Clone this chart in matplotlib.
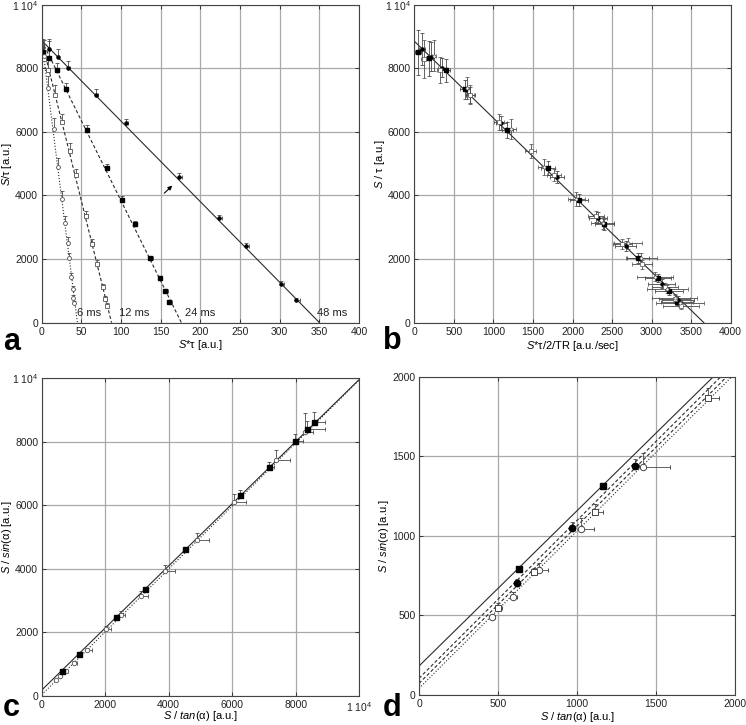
import numpy as np
import matplotlib.pyplot as plt
from matplotlib.ticker import FuncFormatter, MultipleLocator

plt.rcParams['font.family'] = ['Liberation Sans', 'DejaVu Sans']
plt.rcParams['mathtext.fontset'] = 'custom'
plt.rcParams['mathtext.rm'] = 'Liberation Sans'
plt.rcParams['mathtext.it'] = 'Liberation Sans:italic'
plt.rcParams['mathtext.sf'] = 'Liberation Sans'

# ---- panel a : S/tau vs S*tau, four delays ----
a48_x = [9, 20, 33, 68, 106, 173, 223, 257, 301, 320]
a48_y = [8600, 8365, 8019, 7170, 6270, 4582, 3302, 2412, 1226, 704]
a48_ye = [320, 240, 200, 170, 140, 110, 90, 80, 70, 60]
a48_xe = [2, 2, 3, 3, 3, 4, 4, 4, 4, 5]

a24_x = [2, 9, 19, 31, 57, 82, 101, 117, 137, 149, 156, 161]
a24_y = [8500, 8310, 7930, 7340, 6050, 4850, 3860, 3090, 2030, 1400, 1000, 660]
a24_ye = [420, 550, 230, 190, 160, 150, 120, 100, 80, 70, 60, 60]
a24_xe = [1, 1, 1, 2, 2, 2, 3, 3, 3, 3, 3, 3]

a12_x = [3, 8, 17, 26, 36, 43, 56, 64, 70, 77, 80, 82]
a12_y = [8300, 7950, 7160, 6310, 5410, 4645, 3340, 2480, 1840, 1130, 740, 535]
a12_ye = [450, 350, 300, 260, 230, 200, 160, 140, 120, 100, 90, 80]
a12_xe = [1, 1, 1, 1, 1, 1, 2, 2, 2, 2, 2, 2]

a6_x = [3, 8, 15, 20, 25, 29, 33, 35, 37, 39, 40, 41]
a6_y = [8400, 7370, 6090, 4890, 3900, 3130, 2500, 2040, 1450, 1050, 770, 610]
a6_ye = [500, 400, 330, 280, 240, 210, 180, 150, 120, 100, 90, 80]
a6_xe = [1, 1, 1, 1, 1, 1, 1, 1, 1, 1, 1, 1]

fit_a_y0 = 8870
fit_a_xint = [45, 88, 176, 350]          # 6, 12, 24, 48 ms
fit_a_names = ['6 ms', '12 ms', '24 ms', '48 ms']
fit_a_lbl_x = [44, 97, 180, 347]

# ---- panel b : S/tau vs S*tau/2/TR ----
b48_x = [96, 208, 348, 707, 1100, 1800, 2323, 2670, 3130, 3333]
b48_xe = [40, 40, 50, 60, 70, 90, 110, 130, 170, 200]
b48_ye = [500, 450, 300, 250, 220, 200, 170, 160, 140, 130]
b24_x = [45, 190, 395, 640, 1175, 1690, 2080, 2400, 2830, 3080, 3220, 3320]
b24_xe = [40, 40, 50, 60, 70, 90, 110, 120, 140, 160, 180, 200]
b24_ye = [700, 550, 350, 300, 250, 220, 200, 170, 150, 130, 120, 110]
b12_x = [120, 330, 700, 1070, 1470, 1770, 2300, 2630, 2880, 3170, 3290, 3370]
b12_xe = [30, 40, 50, 60, 70, 90, 100, 120, 130, 160, 200, 230]
b12_ye = [600, 400, 300, 250, 220, 200, 170, 150, 140, 130, 120, 110]
b6_x = [250, 660, 1220, 1640, 2050, 2380, 2700, 2870, 3040, 3200, 3290, 3360]
b6_xe = [30, 50, 60, 80, 110, 150, 180, 200, 230, 260, 280, 300]
b6_ye = [500, 350, 300, 250, 220, 200, 170, 150, 140, 130, 120, 110]
fit_b = [8850, 3660]                     # y-intercept, x-intercept

# ---- panel c / d : S/sin(alpha) vs S/tan(alpha) ----
c_fs_x = [634, 1161, 2342, 3245, 4530, 6250, 7173, 7993, 8351, 8592]
c_fs_y = [794, 1313, 2487, 3378, 4620, 6337, 7218, 8036, 8394, 8624]
c_fs_xe = [20, 30, 40, 60, 70, 100, 130, 250, 580, 340]
c_fs_ye = [15, 25, 40, 50, 60, 150, 160, 200, 250, 330]
c_oc_x = [463, 592, 761, 1024, 1418, 2026, 2489, 3119, 3896, 4885, 6071, 7385, 8298]
c_oc_y = [488, 614, 785, 1045, 1434, 2099, 2540, 3148, 3935, 4910, 6097, 7428, 8319]
c_oc_xe = [20, 30, 55, 80, 170, 150, 150, 220, 300, 380, 350, 450, 250]
c_oc_ye = [15, 35, 45, 55, 80, 100, 120, 150, 180, 230, 270, 330, 580]
fit_c_solid = [185, 9960]                # y at x=0, y at x=10000
fit_c_dot = [40, 9940]

d_fs_x = [634, 1161]
d_fs_y = [794, 1313]
d_fs_xe = [10, 15]
d_fs_ye = [10, 20]
d_fc_x = [618, 969, 1368]
d_fc_y = [702, 1049, 1441]
d_fc_xe = [15, 20, 25]
d_fc_ye = [25, 35, 40]
d_os_x = [498, 727, 1113, 1829]
d_os_y = [545, 771, 1152, 1865]
d_os_xe = [25, 20, 50, 70]
d_os_ye = [30, 25, 50, 67]
d_oc_x = [463, 592, 761, 1024, 1418]
d_oc_y = [488, 614, 785, 1045, 1434]
d_oc_xe = [20, 30, 55, 80, 170]
d_oc_ye = [15, 35, 45, 65, 84]
# lines: (y at x=0, x where y reaches 2000)
d_lines = [(182, 1861, '-'), (105, 1908, (0, (3, 2))), (73, 1946, (0, (3, 2))), (42, 1978, ':')]

ecol = '#4a4a4a'
lcol = '#2a2a2a'
ebkw = dict(ecolor=ecol, elinewidth=0.6, capsize=1.6, capthick=0.6, linestyle='none')


def one_sided(e):
    return [np.zeros(len(e)), e]


def sci_fmt(v, pos):
    if v == 10000:
        return '1 10$^4$'
    return '%d' % v


def style(ax, xmax, xstep, ymax, ystep, sci_x=False, sci_y=False):
    ax.set_xlim(0, xmax)
    ax.set_ylim(0, ymax)
    ax.xaxis.set_major_locator(MultipleLocator(xstep))
    ax.yaxis.set_major_locator(MultipleLocator(ystep))
    ax.xaxis.set_major_formatter(FuncFormatter(sci_fmt if sci_x else (lambda v, p: '%d' % v)))
    ax.yaxis.set_major_formatter(FuncFormatter(sci_fmt if sci_y else (lambda v, p: '%d' % v)))
    ax.grid(True, color='#a8a8a8', linewidth=0.9)
    ax.set_axisbelow(True)
    ax.tick_params(direction='in', length=3, width=0.6, top=True, right=True,
                   labelsize=7.5, colors='#222222', pad=3)
    ax.tick_params(axis='y', pad=2.5)
    for s in ax.spines.values():
        s.set_color('#444444')
        s.set_linewidth(0.8)


def labels(ax, xl, yl, xl_y, yl_x):
    ax.set_xlabel(xl, fontsize=8, va='center')
    ax.set_ylabel(yl, fontsize=8, va='center')
    ax.xaxis.set_label_coords(0.5, xl_y)
    ax.yaxis.set_label_coords(yl_x, 0.5)


fig = plt.figure(figsize=(7.46, 7.25), dpi=100)
ax_a = fig.add_axes([0.0559, 0.555, 0.4255, 0.4386])
ax_b = fig.add_axes([0.5554, 0.555, 0.4241, 0.4386])
ax_c = fig.add_axes([0.0559, 0.040, 0.4255, 0.4382])
ax_d = fig.add_axes([0.5617, 0.0414, 0.4240, 0.4390])

# panel a
style(ax_a, 400, 50, 10000, 2000, sci_y=True)
lstyles_a = [':', (0, (3, 2)), (0, (3, 2)), '-']
for xi, ls, nm, lx in zip(fit_a_xint, lstyles_a, fit_a_names, fit_a_lbl_x):
    ax_a.plot([0, xi], [fit_a_y0, 0], color=lcol, lw=0.8, linestyle=ls)
    ax_a.text(lx, 300, nm, fontsize=8, va='center', ha='left', color='#222222')
ax_a.errorbar(a48_x, a48_y, yerr=one_sided(a48_ye), xerr=one_sided(a48_xe),
              marker='o', ms=2.2, mfc='k', mec='k', **ebkw)
ax_a.errorbar(a24_x, a24_y, yerr=one_sided(a24_ye), xerr=one_sided(a24_xe),
              marker='s', ms=3.5, mfc='k', mec='k', **ebkw)
ax_a.errorbar(a12_x, a12_y, yerr=one_sided(a12_ye), xerr=one_sided(a12_xe),
              marker='s', ms=2.6, mfc='white', mec='#555555', mew=0.6, **ebkw)
ax_a.errorbar(a6_x, a6_y, yerr=one_sided(a6_ye), xerr=one_sided(a6_xe),
              marker='o', ms=2.8, mfc='white', mec='#555555', mew=0.6, **ebkw)
ax_a.annotate('', xy=(167, 4370), xytext=(152, 4010),
              arrowprops=dict(arrowstyle='-|>', color='k', lw=0.8, mutation_scale=6))
labels(ax_a, r'$S$*τ [a.u.]', r'$S$/τ [a.u.]', -0.069, -0.11)

# panel b
style(ax_b, 4000, 500, 10000, 2000, sci_y=True)
ax_b.plot([0, fit_b[1]], [fit_b[0], 0], color=lcol, lw=0.8)
ax_b.errorbar(b48_x, a48_y, yerr=b48_ye, xerr=b48_xe, marker='o', ms=2.2,
              mfc='k', mec='k', **ebkw)
ax_b.errorbar(b24_x, a24_y, yerr=b24_ye, xerr=b24_xe, marker='s', ms=2.6,
              mfc='k', mec='k', **ebkw)
ax_b.errorbar(b12_x, a12_y, yerr=b12_ye, xerr=b12_xe, marker='s', ms=2.2,
              mfc='white', mec='#555555', mew=0.5, **ebkw)
ax_b.errorbar(b6_x, a6_y, yerr=b6_ye, xerr=b6_xe, marker='o', ms=2.2,
              mfc='white', mec='#555555', mew=0.5, **ebkw)
labels(ax_b, r'$S$*τ/2/TR [a.u./sec]', r'$S$ / τ [a.u.]', -0.072, -0.11)

# panel c
style(ax_c, 10000, 2000, 10000, 2000, sci_x=True, sci_y=True)
ax_c.plot([0, 10000], fit_c_solid, color=lcol, lw=0.8)
ax_c.plot([0, 10000], fit_c_dot, color=lcol, lw=0.8, linestyle=':')
ax_c.errorbar(c_oc_x, c_oc_y, yerr=one_sided(c_oc_ye), xerr=one_sided(c_oc_xe),
              marker='o', ms=3.2, mfc='white', mec='#555555', mew=0.6, **ebkw)
ax_c.errorbar(c_fs_x, c_fs_y, yerr=one_sided(c_fs_ye), xerr=one_sided(c_fs_xe),
              marker='s', ms=3.6, mfc='k', mec='k', **ebkw)
labels(ax_c, r'$S$ / $tan$(α) [a.u.]', r'$S$ / $sin$(α) [a.u.]', -0.062, -0.11)

# panel d
style(ax_d, 2000, 500, 2000, 500)
for y0, xtop, ls in d_lines:
    ax_d.plot([0, xtop], [y0, 2000], color=lcol, lw=0.8, linestyle=ls)
ax_d.errorbar(d_oc_x, d_oc_y, yerr=one_sided(d_oc_ye), xerr=one_sided(d_oc_xe),
              marker='o', ms=4.6, mfc='white', mec='#444444', mew=0.7, **ebkw)
ax_d.errorbar(d_os_x, d_os_y, yerr=one_sided(d_os_ye), xerr=one_sided(d_os_xe),
              marker='s', ms=4.6, mfc='white', mec='#444444', mew=0.7, **ebkw)
ax_d.errorbar(d_fc_x, d_fc_y, yerr=one_sided(d_fc_ye), xerr=one_sided(d_fc_xe),
              marker='o', ms=4.6, mfc='k', mec='k', **ebkw)
ax_d.errorbar(d_fs_x, d_fs_y, yerr=one_sided(d_fs_ye), xerr=one_sided(d_fs_xe),
              marker='s', ms=4.6, mfc='k', mec='k', **ebkw)
labels(ax_d, r'$S$ / $tan$(α) [a.u.]', r'$S$ / $sin$(α) [a.u.]', -0.068, -0.11)

# panel letters
for x, y, t in [(0.004, 0.517, 'a'), (0.513, 0.519, 'b'), (0.004, 0.012, 'c'), (0.513, 0.012, 'd')]:
    fig.text(x, y, t, fontsize=22, fontweight='bold', ha='left', va='baseline')

fig.savefig('out.png', dpi=100)
